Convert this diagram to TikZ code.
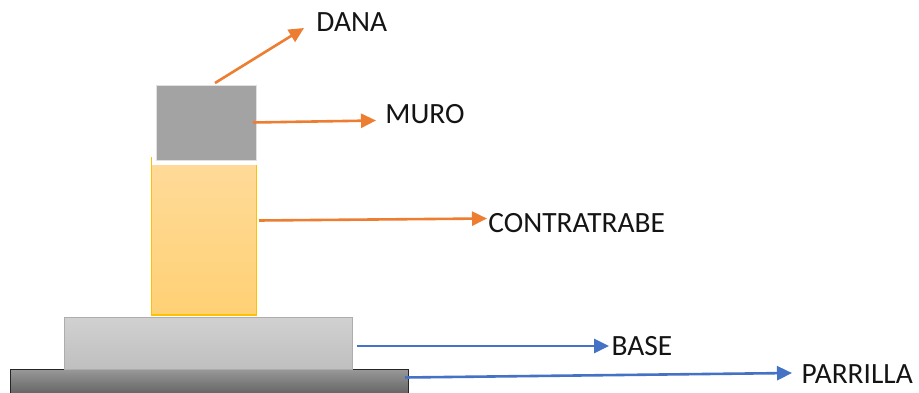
\documentclass[tikz,border=0pt]{standalone}
\usepackage{fontspec}
\setmainfont{Carlito}
\usetikzlibrary{arrows.meta}
\definecolor{orangeline}{HTML}{ED7D31}
\definecolor{blueline}{HTML}{4472C4}
\definecolor{goldline}{HTML}{FFC000}
\definecolor{yellowtop}{RGB}{255,218,152}
\definecolor{yellowbot}{RGB}{255,209,117}
\tikzset{
  x=1pt,y=-1pt,
  lbl/.style={font=\fontsize{29.4}{32}\selectfont,inner sep=0pt,anchor=west,text=black!92},
  conn/.style={line width=2.6pt,-{Triangle[length=15pt,width=14pt]}},
  oconn/.style={conn,draw=orangeline},
  bconn/.style={conn,draw=blueline},
}
\begin{document}
\begin{tikzpicture}
\useasboundingbox (0,0) rectangle (919,393);
% contratrabe
\shade[top color=yellowtop,bottom color=yellowbot] (151.5,165) rectangle (256.5,315);
\fill[white] (150,161) rectangle (259,165);
\draw[goldline,line width=1.2pt] (151.7,157) -- (151.7,315) -- (256.7,315) -- (256.7,165);
% muro
\fill[black!36,draw=black!12,line width=1pt] (156.5,86) rectangle (256.7,160.5);
% parrilla
\shade[top color=black!40,bottom color=black!60] (10.5,369) rectangle (408.7,393);
\draw[black!85,line width=1pt] (10.5,393) -- (10.5,369) -- (408.7,369) -- (408.7,393);
% base
\shade[top color=black!18,bottom color=black!25,draw=black!32,line width=1pt] (64.5,317) rectangle (352.7,369);
% labels
\node[lbl] (dana) at (316.2,22.5) {DANA};
\node[lbl] (muro) at (385.2,114.5) {MURO};
\node[lbl] (contra) at (488.2,223.5) {CONTRATRABE};
\node[lbl] (base) at (611.5,346.5) {BASE};
\node[lbl] (parrilla) at (801.5,374) {PARRILLA};
% connector ends
\coordinate (d0) at (215,83);
\coordinate (d1) at (304,28);
\coordinate (m0) at (253,122.5);
\coordinate (m1) at (376,120.5);
\coordinate (c0) at (259,220.5);
\coordinate (c1) at (487,218.5);
\coordinate (b0) at (357,346);
\coordinate (b1) at (609,346);
\coordinate (p0) at (405,377.5);
\coordinate (p1) at (792,373);
\draw[oconn] (d0) -- (d1);
\draw[oconn] (m0) -- (m1);
\draw[oconn] (c0) -- (c1);
\draw[bconn] (b0) -- (b1);
\draw[bconn] (p0) -- (p1);
\end{tikzpicture}
\end{document}
